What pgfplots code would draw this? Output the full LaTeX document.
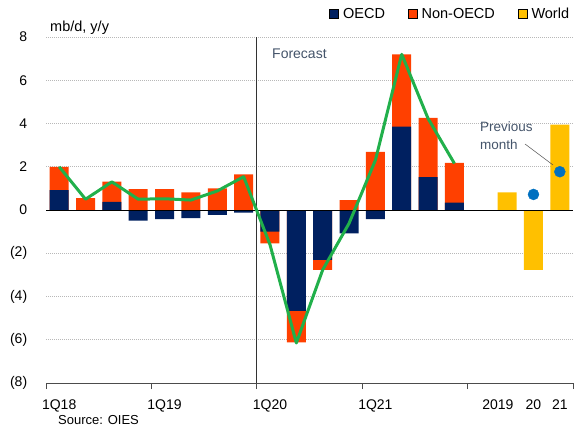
\documentclass[border=0pt]{standalone}
\usepackage{fontspec}
\setmainfont{Liberation Sans}
\usepackage{pgfplots}
\usepackage{pgfplotstable}
\pgfplotsset{compat=1.18}
\definecolor{navy}{HTML}{002060}
\definecolor{orng}{HTML}{FF4000}
\definecolor{yel}{HTML}{FFC000}
\definecolor{grn}{HTML}{21B04B}
\definecolor{dotblue}{HTML}{0070C0}
\definecolor{annot}{HTML}{44546A}

\pgfplotstableread{
x oecd non total
0 0.92 1.08 2.0
1 0.00 0.55 0.5
2 0.38 0.93 1.3
3 -0.49 0.97 0.5
4 -0.42 0.97 0.52
5 -0.37 0.82 0.46
6 -0.23 1.00 0.88
7 -0.12 1.65 1.54
8 -1.00 -0.54 -1.6
9 -4.66 -1.46 -6.15
10 -2.31 -0.46 -2.77
11 -1.08 0.46 -0.62
12 -0.42 2.69 2.3
13 3.85 3.35 7.2
14 1.52 2.74 4.23
15 0.34 1.84 2.15
}\quarters

\pgfplotstableread{
x world
17 0.82
18 -2.77
19 3.95
}\annual

\pgfplotstableread{
x prev
18 0.72
19 1.77
}\prevmonth

\begin{document}
\begin{tikzpicture}
\useasboundingbox (0,0) rectangle (575pt,432pt);
\begin{axis}[
  at={(46pt,49pt)}, anchor=south west,
  width=527pt, height=346pt, scale only axis,
  xmin=-0.5, xmax=19.5, ymin=-8, ymax=8,
  axis x line*=bottom, axis y line*=left,
  y axis line style={draw=none},
  x axis line style={black!70, line width=0.9pt},
  xtick={0,4,8,12,16.65,18,19},
  xticklabels={1Q18,1Q19,1Q20,1Q21,2019,20,21},
  major x tick style={draw=none},
  minor xtick={-0.5,3.5,7.5,11.5,15.5,19.5},
  minor x tick style={black!70, line width=0.9pt},
  minor tick length=6pt,
  tick align=outside,
  ytick={-8,-6,-4,-2,0,2,4,6,8},
  yticklabels={(8),(6),(4),(2),0,2,4,6,8},
  major y tick style={draw=none},
  ymajorgrids,
  grid style={black!28, line width=0.8pt, dash pattern=on 1pt off 1pt},
  tick label style={font=\fontsize{14}{16}\selectfont, black},
  yticklabel style={xshift=-11pt},
  xticklabel style={yshift=-9pt},
  /pgf/number format/assume math mode=true,
  legend columns=3,
  legend image code/.code={\fill[#1] (0pt,-4.3pt) rectangle (9pt,4.3pt);},
  legend style={draw=none, fill=none, inner sep=0pt,
    nodes={inner sep=0pt},
    /tikz/every odd column/.append style={column sep=4.5pt},
    /tikz/every even column/.append style={column sep=22.7pt},
    at={(1,1)}, anchor=south east, xshift=-3.7pt, yshift=17pt,
    font=\fontsize{14.5}{17}\selectfont},
]
\addlegendimage{fill=navy}
\addlegendentry{OECD}
\addlegendimage{fill=orng}
\addlegendentry{Non-OECD}
\addlegendimage{fill=yel}
\addlegendentry{World}

% Non-OECD (outer extent of each stacked bar)
\addplot[forget plot, ybar, bar width=0.72, bar shift=0pt, fill=orng, draw=none]
  table[x=x, y expr={(\thisrow{oecd}*\thisrow{non}>0) ? (\thisrow{oecd}+\thisrow{non}) : \thisrow{non}}] {\quarters};
% OECD
\addplot[forget plot, ybar, bar width=0.72, bar shift=0pt, fill=navy, draw=none]
  table[x=x, y=oecd] {\quarters};
% World
\addplot[forget plot, ybar, bar width=0.72, bar shift=0pt, fill=yel, draw=none]
  table[x=x, y=world] {\annual};

\draw[black, line width=0.9pt] (axis cs:-0.5,0) -- (axis cs:19.5,0);
\draw[black!80, line width=0.9pt] (axis cs:7.5,-8) -- (axis cs:7.5,8);

% Total
\addplot[forget plot, grn, line width=3pt, line join=round, mark=none]
  table[x=x, y=total] {\quarters};
% Previous month
\addplot[forget plot, only marks, mark=*, mark size=5.5pt, dotblue, fill=dotblue]
  table[x=x, y=prev] {\prevmonth};
\end{axis}

\node[anchor=base west, inner sep=0pt, font=\fontsize{14.5}{17}\selectfont] at (50pt,400pt) {mb/d, y/y};
\node[anchor=base west, inner sep=0pt, text=annot, font=\fontsize{14}{16}\selectfont] at (272pt,373.5pt) {Forecast};
\node[anchor=base west, inner sep=0pt, text=annot, font=\fontsize{13.5}{18}\selectfont] at (480pt,301pt) {Previous};
\node[anchor=base west, inner sep=0pt, text=annot, font=\fontsize{13.5}{18}\selectfont] at (480pt,283pt) {month};
\draw[black!70, line width=0.5pt] (525pt,288pt) -- (553pt,267pt);
\node[anchor=base west, inner sep=0pt, font=\fontsize{13}{15}\selectfont] at (58pt,8pt) {Source: OIES};
\end{tikzpicture}
\end{document}
